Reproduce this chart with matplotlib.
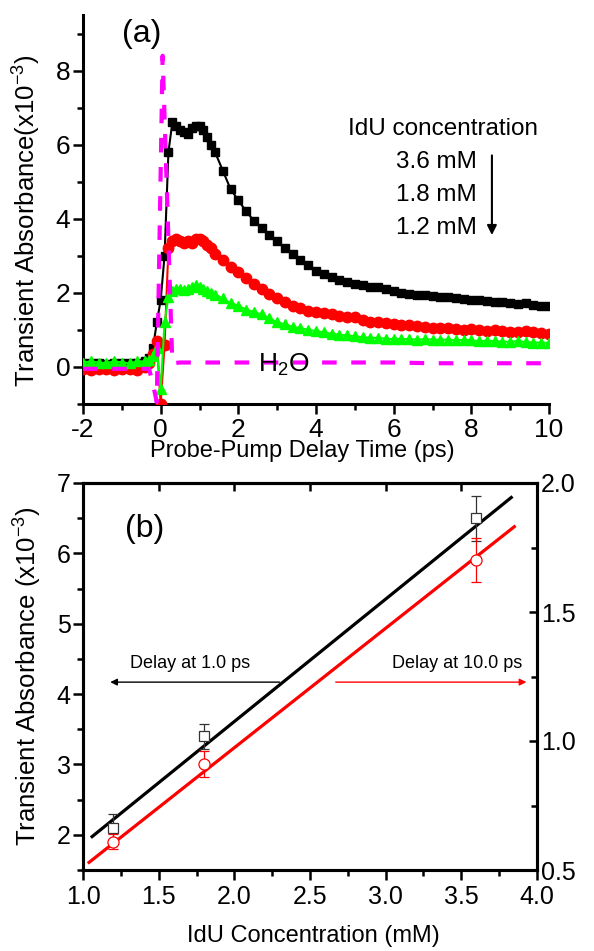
import numpy as np
import matplotlib.pyplot as plt
from matplotlib.ticker import MultipleLocator

plt.rcParams['font.family'] = ['Liberation Sans', 'DejaVu Sans']
plt.rcParams['mathtext.fontset'] = 'custom'
plt.rcParams['mathtext.rm'] = 'Liberation Sans'
plt.rcParams['mathtext.it'] = 'Liberation Sans:italic'
plt.rcParams['mathtext.default'] = 'regular'
plt.rcParams['axes.unicode_minus'] = False

# ---- panel (a): transient absorbance traces ----
delay = [-2.0, -1.8, -1.6, -1.4, -1.2, -1.0, -0.8, -0.6, -0.4,
         -0.3, -0.2, -0.1, 0.0, 0.1, 0.2, 0.3, 0.4, 0.5, 0.6, 0.7, 0.8, 0.9,
         1.0, 1.1, 1.2, 1.3, 1.4,
         1.6, 1.8, 2.0, 2.2, 2.4, 2.6, 2.8, 3.0, 3.2, 3.4, 3.6, 3.8, 4.0, 4.2,
         4.4, 4.6, 4.8, 5.0, 5.2, 5.4, 5.6, 5.8, 6.0, 6.2, 6.4, 6.6, 6.8, 7.0,
         7.2, 7.4, 7.6, 7.8, 8.0, 8.2, 8.4, 8.6, 8.8, 9.0, 9.2, 9.4, 9.6, 9.8, 10.0]

conc_36 = [0.10, 0.12, 0.10, 0.08, 0.10, 0.10, 0.12, 0.10, 0.15,
           0.25, 0.5, 1.2, 1.8, 3.0, 5.8, 6.6, 6.5, 6.4, 6.35, 6.3, 6.45, 6.5,
           6.5, 6.4, 6.2, 6.0, 5.8,
           5.3, 4.8, 4.5, 4.2, 3.95, 3.75, 3.55, 3.4, 3.2, 3.05, 2.9, 2.75, 2.6, 2.5,
           2.42, 2.35, 2.3, 2.25, 2.2, 2.17, 2.15, 2.1, 2.05, 2.0, 1.98, 1.95, 1.93, 1.92,
           1.9, 1.88, 1.85, 1.83, 1.8, 1.8, 1.78, 1.75, 1.75, 1.72, 1.7, 1.72, 1.68, 1.65, 1.65]

conc_18 = [-0.05, -0.08, -0.05, -0.05, -0.08, -0.05, -0.05, -0.08, 0.0,
           0.1, 0.35, 0.7, -1.0, 0.6, 3.2, 3.4, 3.45, 3.4, 3.35, 3.4, 3.35, 3.45,
           3.45, 3.4, 3.3, 3.2, 3.05,
           2.9, 2.7, 2.55, 2.4, 2.25, 2.1, 1.98, 1.85, 1.75, 1.65, 1.6, 1.52, 1.48, 1.45,
           1.42, 1.38, 1.35, 1.35, 1.28, 1.22, 1.2, 1.18, 1.15, 1.12, 1.12, 1.1, 1.08, 1.05,
           1.05, 1.05, 1.02, 1.0, 1.02, 1.0, 0.98, 1.0, 0.97, 0.95, 0.95, 0.98, 0.93, 0.92, 0.9]

conc_12 = [0.12, 0.15, 0.12, 0.1, 0.15, 0.12, 0.1, 0.15, 0.15,
           0.2, 0.3, 0.5, -0.6, 1.2, 1.9, 2.05, 2.1, 2.1, 2.08, 2.1, 2.15, 2.2,
           2.15, 2.1, 2.05, 2.0, 1.95,
           1.85, 1.72, 1.65, 1.55, 1.48, 1.42, 1.32, 1.2, 1.15, 1.08, 1.05, 1.0, 0.97, 0.93,
           0.9, 0.87, 0.85, 0.83, 0.8, 0.79, 0.78, 0.76, 0.75, 0.76, 0.75, 0.74, 0.75, 0.74,
           0.73, 0.74, 0.72, 0.73, 0.72, 0.7, 0.71, 0.7, 0.68, 0.68, 0.7, 0.67, 0.66, 0.66, 0.65]

h2o_delay = [-2.0, -1.5, -1.0, -0.5, -0.3, -0.2, -0.1, 0.05, 0.3, 0.5, 1.0, 2.0,
             3.0, 4.0, 5.0, 6.0, 7.0, 8.0, 9.0, 10.0]
h2o = [-0.05, -0.05, -0.05, -0.05, -0.05, -0.45, -0.95, 8.4, 0.1, 0.12, 0.12, 0.12,
       0.12, 0.12, 0.12, 0.12, 0.1, 0.1, 0.1, 0.1]

legend_lines = ['3.6 mM', '1.8 mM', '1.2 mM']

# ---- panel (b): absorbance vs IdU concentration ----
idu = [1.2, 1.8, 3.6]
abs_1ps = [2.1, 3.4, 6.5]
err_1ps = [0.2, 0.18, 0.32]
abs_10ps = [0.61, 0.91, 1.70]
err_10ps = [0.03, 0.05, 0.085]
fit_1ps = (1.74, 0.13)      # slope, intercept (left axis)
fit_10ps = (0.463, 0.048)   # slope, intercept (right axis)
fit_1ps_range = (1.06, 3.83)
fit_10ps_range = (1.04, 3.85)

W, H = 594, 951
fig = plt.figure(figsize=(W / 100, H / 100), dpi=100)

# ================= panel (a) =================
ax1 = fig.add_axes([83 / W, 1 - 404 / H, (549 - 83) / W, (404 - 15) / H])
ax1.plot(delay, conc_36, '-s', color='black', ms=6, lw=1.5, zorder=3)
ax1.plot(delay, conc_18, '-o', color='red', ms=7.5, lw=1.5, zorder=4)
ax1.plot(delay, conc_12, '-^', color='#00ff00', ms=7, lw=1.5, zorder=5)
ax1.plot(h2o_delay, h2o, color='#ff00ff', lw=3, linestyle=(0, (3.5, 3.5)), zorder=6)

ax1.set_xlim(-2, 10)
ax1.set_ylim(-1, 9.5)
ax1.spines['top'].set_visible(False)
ax1.spines['right'].set_visible(False)
for s in ['left', 'bottom']:
    ax1.spines[s].set_linewidth(2.2)
ax1.xaxis.set_major_locator(MultipleLocator(2))
ax1.xaxis.set_minor_locator(MultipleLocator(1))
ax1.yaxis.set_major_locator(MultipleLocator(2))
ax1.yaxis.set_minor_locator(MultipleLocator(1))
ax1.tick_params(which='major', direction='out', length=7, width=1.8, labelsize=19)
ax1.tick_params(which='minor', direction='out', length=4, width=1.8)
ax1.tick_params(axis='y', pad=2)
ax1.tick_params(axis='x', pad=3)

ax1.set_xlabel('Probe-Pump Delay Time (ps)', fontsize=17)
ax1.xaxis.set_label_coords(0.47, -0.092)
ax1.xaxis.label.set_va('top')
ax1.set_ylabel('Transient Absorbance(x10$^{-3}$)', fontsize=18.5)
ax1.yaxis.set_label_coords(-0.085, 0.47)

ax1.text(-0.48, 8.98, '(a)', fontsize=23, ha='center', va='center')
ax1.text(3.18, 0.05, 'H$_2$O', fontsize=19, ha='center', va='center', zorder=7)
ax1.text(7.27, 6.41, 'IdU concentration', fontsize=17.5, ha='center', va='center')
for i, lab in enumerate(legend_lines):
    ax1.text(8.15, 5.53 - 0.89 * i, lab, fontsize=17.5, ha='right', va='center')
ax1.annotate('', xy=(8.53, 3.56), xytext=(8.53, 5.71),
             arrowprops=dict(arrowstyle='-|>', color='black', lw=1.5,
                             mutation_scale=14, shrinkA=0, shrinkB=0))

# ================= panel (b) =================
ax2 = fig.add_axes([83 / W, 1 - 870 / H, (537 - 83) / W, (870 - 483) / H])
ax2r = ax2.twinx()

xb = np.linspace(*fit_1ps_range, 2)
ax2.plot(xb, fit_1ps[0] * xb + fit_1ps[1], color='black', lw=2.3, zorder=2)
ax2.errorbar(idu, abs_1ps, yerr=err_1ps, fmt='s', mfc='white', mec='#333333',
             ecolor='#333333', ms=7, mew=0.9, elinewidth=0.9, capsize=3.5, zorder=3)

xr = np.linspace(*fit_10ps_range, 2)
ax2r.plot(xr, fit_10ps[0] * xr + fit_10ps[1], color='red', lw=2.3, zorder=2)
ax2r.errorbar(idu, abs_10ps, yerr=err_10ps, fmt='o', mfc='white', mec='red',
              ecolor='red', ms=8, mew=0.9, elinewidth=0.9, capsize=3.5, zorder=3)

ax2.set_xlim(1.0, 4.0)
ax2.set_ylim(1.5, 7.0)
ax2r.set_ylim(0.5, 2.0)
for a in (ax2, ax2r):
    for s in a.spines.values():
        s.set_linewidth(2.2)

ax2.xaxis.set_major_locator(MultipleLocator(0.5))
ax2.xaxis.set_minor_locator(MultipleLocator(0.25))
ax2.yaxis.set_major_locator(MultipleLocator(1))
ax2.yaxis.set_minor_locator(MultipleLocator(0.5))
ax2r.yaxis.set_major_locator(MultipleLocator(0.5))
ax2r.yaxis.set_minor_locator(MultipleLocator(0.25))
ax2.tick_params(which='major', direction='out', length=7, width=1.8, labelsize=18)
ax2.tick_params(which='minor', direction='out', length=4, width=1.8)
ax2.tick_params(axis='y', pad=2)
ax2.tick_params(axis='x', pad=4)
ax2r.tick_params(which='major', direction='in', length=6, width=1.8, labelsize=18, pad=3)
ax2r.tick_params(which='minor', direction='in', length=4, width=1.8)

top = ax2.secondary_xaxis('top')
top.xaxis.set_major_locator(MultipleLocator(0.5))
top.tick_params(direction='in', length=6, width=1.8, labeltop=False)
top.spines['top'].set_linewidth(2.2)

ax2.set_xlabel('IdU Concentration (mM)', fontsize=17)
ax2.xaxis.set_label_coords(0.507, -0.142)
ax2.xaxis.label.set_va('top')
ax2.set_ylabel('Transient Absorbance (x10$^{-3}$)', fontsize=18.5)
ax2.yaxis.set_label_coords(-0.085, 0.5)

ax2.text(1.41, 6.35, '(b)', fontsize=23, ha='center', va='center')
ax2.text(1.71, 4.44, 'Delay at 1.0 ps', fontsize=13, ha='center', va='center')
ax2.annotate('', xy=(1.18, 4.17), xytext=(2.30, 4.17),
             arrowprops=dict(arrowstyle='-|>', color='black', lw=1.0,
                             mutation_scale=10, shrinkA=0, shrinkB=0))
ax2.text(3.47, 4.44, 'Delay at 10.0 ps', fontsize=13, ha='center', va='center')
ax2.annotate('', xy=(3.93, 4.17), xytext=(2.67, 4.17),
             arrowprops=dict(arrowstyle='-|>', color='red', lw=1.0,
                             mutation_scale=10, shrinkA=0, shrinkB=0))

fig.savefig('out.png', dpi=100)
